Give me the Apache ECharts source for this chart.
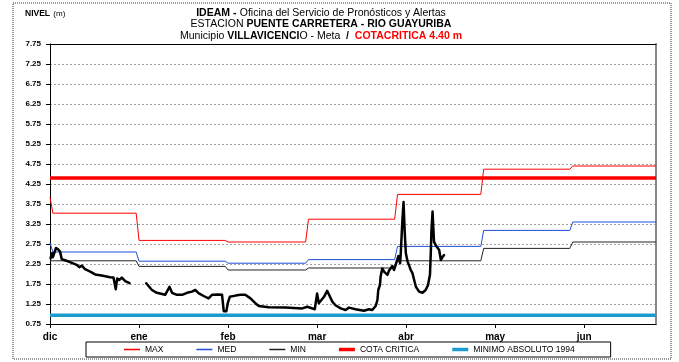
<!DOCTYPE html>
<html>
<head>
<meta charset="utf-8">
<script src="https://cdn.jsdelivr.net/npm/echarts@6/dist/echarts.min.js"></script>
<style>
  html, body { margin: 0; padding: 0; background: #ffffff; }
  #chart { width: 679px; height: 362px; }
</style>
</head>
<body>
<div id="chart"></div>
<script>
// Month tick labels; ticks fall every 31 days from 1 December
const monthLabels = ['dic', 'ene', 'feb', 'mar', 'abr', 'may', 'jun'];
const tickEvery = 31;
// First day (days since 1 Dec) of each month where the monthly statistics change
const monthStartDay = [0, 31, 62, 90, 121, 151, 182];
const lastDay = 211;

// Historical monthly statistics of the river level (m)
const maxMonthly = [3.52, 2.84, 2.80, 3.37, 3.99, 4.62, 4.70];
const medMonthly = [2.55, 2.32, 2.27, 2.36, 2.69, 3.09, 3.30];
const minMonthly = [2.33, 2.19, 2.10, 2.15, 2.33, 2.64, 2.80];
// Value on the first day (carried over from November)
const firstDayMax = 3.92;
const firstDayMed = 2.78;
const firstDayMin = 2.33;

// Reference levels (m)
const cotaCritica = 4.40;
const minimoAbsoluto = 0.97;

// Observed level: day since 1 Dec and level (m); null marks the gap in records
const levelDay = [
  0.2, 0.7, 1.0, 2.1, 2.8, 3.5, 4.1, 5.8, 7.6, 9.3, 10.2, 11.1, 12.2, 14.0, 15.7, 18.0,
  20.9, 22.1, 22.9, 23.4, 24.1, 25.0, 26.2, 27.7, 30.5,
  33.5, 35.5, 37.2, 39.0, 40.1, 41.6, 42.5, 44.2, 46.0, 47.7, 49.4, 50.6, 51.7, 53.5,
  55.2, 56.4, 58.7, 59.9, 60.5, 61.4, 61.9, 62.6, 64.6, 66.3, 68.0, 69.8, 71.5, 72.7,
  76.2, 82.0, 87.8, 89.6, 92.2, 93.0, 93.6, 95.4, 96.5, 98.3, 99.4, 101.2, 102.9, 104.1,
  106.4, 109.3, 111.1, 112.2, 113.4, 114.0, 114.3, 114.9, 115.1, 115.7, 116.3, 116.9,
  117.5, 118.0, 119.2, 119.8, 120.7, 121.3, 121.9, 122.1, 122.7, 123.1, 123.5, 123.9,
  124.5, 125.0, 125.6, 126.2, 126.8, 127.4, 128.5, 129.7, 130.8, 131.6, 132.3, 132.6,
  132.8, 133.2, 133.7, 134.3, 134.9, 135.5, 136.1, 136.7, 137.2
];
const levelValue = [
  2.39, 2.52, 2.42, 2.65, 2.62, 2.56, 2.37, 2.33, 2.28, 2.23, 2.17, 2.21, 2.12, 2.06, 1.99, 1.96,
  1.92, 1.91, 1.62, 1.89, 1.85, 1.91, 1.82, 1.77, null,
  1.77, 1.60, 1.53, 1.50, 1.48, 1.68, 1.53, 1.48, 1.48, 1.53, 1.56, 1.60, 1.52, 1.45,
  1.39, 1.48, 1.49, 1.48, 1.07, 1.07, 1.27, 1.43, 1.46, 1.48, 1.48, 1.39, 1.27, 1.20,
  1.17, 1.16, 1.14, 1.18, 1.12, 1.51, 1.27, 1.43, 1.58, 1.31, 1.22, 1.14, 1.10, 1.16,
  1.12, 1.08, 1.12, 1.10, 1.20, 1.35, 1.60, 1.73, 1.93, 2.14, 2.06, 2.10,
  1.98, 2.08, 2.20, 2.10, 2.31, 2.45, 2.27, 2.47, 3.35, 3.80, 3.06, 2.52,
  2.31, 2.22, 2.10, 2.02, 1.85, 1.68, 1.56, 1.53, 1.60, 1.72, 1.98, 2.56,
  3.06, 3.56, 2.81, 2.72, 2.68, 2.60, 2.35, 2.43, 2.47
];

const FONT = '"Liberation Sans", Arial, sans-serif';

// Series colours
const COLOR_MAX = '#ff0000';
const COLOR_MED = '#1f4fd8';
const COLOR_MIN = '#222222';
const COLOR_COTA = '#ff0000';
const COLOR_MINIMO = '#1a9ccf';

// Legend swatches: thin and thick horizontal bars (aspect kept by the legend)
const THIN_ICON = 'path://M0,0H16V1.5H0Z';
const THICK_ICON = 'path://M0,0H16V3.5H0Z';

// Turn monthly constants into a daily step line
function monthlySteps(firstValue, monthly) {
  const pts = [[0, firstValue]];
  monthly.forEach(function (v, i) {
    const start = i === 0 ? 1 : monthStartDay[i];
    const end = i < monthly.length - 1 ? monthStartDay[i + 1] - 1 : lastDay;
    pts.push([start, v], [end, v]);
  });
  return pts;
}

function constantLine(v) {
  return [[0, v], [lastDay, v]];
}

function legendItem(name, icon, color) {
  return { name: name, icon: icon, itemStyle: { color: color, borderWidth: 0 } };
}

const levelData = levelDay.map(function (d, i) { return [d, levelValue[i]]; });

const chart = echarts.init(document.getElementById('chart'), null, { renderer: 'canvas' });

chart.setOption({
  animation: false,
  backgroundColor: '#ffffff',
  textStyle: { fontFamily: FONT },
  grid: { left: 50, right: 23, top: 44, bottom: 38, containLabel: false },
  graphic: [
    {
      type: 'rect',
      shape: { x: 13, y: 3, width: 658, height: 356 },
      style: { fill: 'none', stroke: '#333', lineWidth: 1, lineDash: [1, 1] },
      silent: true
    },
    {
      type: 'text', x: 25, y: 14,
      style: {
        text: '{b|NIVEL} {n|(m)}',
        verticalAlign: 'middle',
        rich: {
          b: { fontFamily: FONT, fontWeight: 'bold', fontSize: 8.5, fill: '#000' },
          n: { fontFamily: FONT, fontSize: 8, fill: '#000' }
        }
      }
    },
    {
      type: 'text', x: 321, y: 13,
      style: {
        text: '{b|IDEAM -} {n|Oficina del Servicio de Pronósticos y Alertas}',
        align: 'center', verticalAlign: 'middle',
        rich: {
          b: { fontFamily: FONT, fontWeight: 'bold', fontSize: 10.5, fill: '#000' },
          n: { fontFamily: FONT, fontSize: 10.5, fill: '#000' }
        }
      }
    },
    {
      type: 'text', x: 321, y: 24.5,
      style: {
        text: '{n|ESTACION }{b|PUENTE CARRETERA - RIO GUAYURIBA}',
        align: 'center', verticalAlign: 'middle',
        rich: {
          b: { fontFamily: FONT, fontWeight: 'bold', fontSize: 10.5, fill: '#000' },
          n: { fontFamily: FONT, fontSize: 10.5, fill: '#000' }
        }
      }
    },
    {
      type: 'text', x: 321, y: 36,
      style: {
        text: '{n|Municipio }{b|VILLAVICENCI}{n|O - Meta }{b| / }{r| COTACRITICA ' + cotaCritica.toFixed(2) + ' m}',
        align: 'center', verticalAlign: 'middle',
        rich: {
          b: { fontFamily: FONT, fontWeight: 'bold', fontSize: 10.5, fill: '#000' },
          n: { fontFamily: FONT, fontSize: 10.5, fill: '#000' },
          r: { fontFamily: FONT, fontWeight: 'bold', fontSize: 10.5, fill: '#ff0000' }
        }
      }
    }
  ],
  legend: {
    data: [
      legendItem('MAX', THIN_ICON, COLOR_MAX),
      legendItem('MED', THIN_ICON, COLOR_MED),
      legendItem('MIN', THIN_ICON, COLOR_MIN),
      legendItem('COTA CRITICA', THICK_ICON, COLOR_COTA),
      legendItem('MINIMO ABSOLUTO 1994', THICK_ICON, COLOR_MINIMO)
    ],
    left: 86,
    top: 342,
    orient: 'horizontal',
    padding: [3, 36, 3, 38],
    itemGap: 33,
    itemWidth: 16,
    itemHeight: 9,
    symbolKeepAspect: true,
    borderColor: '#000',
    borderWidth: 1,
    textStyle: { fontFamily: FONT, fontSize: 8.5, color: '#000' }
  },
  xAxis: [
    {
      type: 'value',
      min: 0,
      max: lastDay,
      interval: tickEvery,
      axisLine: { show: true, onZero: false, lineStyle: { color: '#000', width: 1 } },
      axisTick: { show: true, length: 4, lineStyle: { color: '#000' } },
      splitLine: { show: false },
      axisLabel: {
        margin: 8,
        fontFamily: FONT,
        fontSize: 10,
        fontWeight: 'bold',
        color: '#000',
        showMaxLabel: false,
        formatter: function (v) {
          const k = Math.round(v / tickEvery);
          return (Math.abs(v - k * tickEvery) < 1e-6 && k < monthLabels.length) ? monthLabels[k] : '';
        }
      }
    },
    {
      type: 'value',
      position: 'top',
      min: 0,
      max: lastDay,
      axisLine: { show: true, onZero: false, lineStyle: { color: '#000', width: 1 } },
      axisTick: { show: false },
      axisLabel: { show: false },
      splitLine: { show: false }
    }
  ],
  yAxis: [
    {
      type: 'value',
      min: 0.75,
      max: 7.75,
      interval: 0.5,
      axisLine: { show: true, onZero: false, lineStyle: { color: '#000', width: 1 } },
      axisTick: { show: true, length: 4, lineStyle: { color: '#000' } },
      splitLine: { show: true, lineStyle: { color: '#a0a0a0', type: [2, 2], width: 1 } },
      axisLabel: {
        margin: 9,
        fontFamily: FONT,
        fontSize: 8,
        fontWeight: 'bold',
        color: '#000',
        formatter: function (v) { return v.toFixed(2); }
      }
    },
    {
      type: 'value',
      position: 'right',
      min: 0.75,
      max: 7.75,
      axisLine: { show: true, onZero: false, lineStyle: { color: '#888', width: 2 } },
      axisTick: { show: false },
      axisLabel: { show: false },
      splitLine: { show: false }
    }
  ],
  series: [
    {
      name: 'MAX', type: 'line', symbol: 'none', silent: true,
      data: monthlySteps(firstDayMax, maxMonthly),
      lineStyle: { color: COLOR_MAX, width: 1 }, itemStyle: { color: COLOR_MAX }
    },
    {
      name: 'MED', type: 'line', symbol: 'none', silent: true,
      data: monthlySteps(firstDayMed, medMonthly),
      lineStyle: { color: COLOR_MED, width: 1 }, itemStyle: { color: COLOR_MED }
    },
    {
      name: 'MIN', type: 'line', symbol: 'none', silent: true,
      data: monthlySteps(firstDayMin, minMonthly),
      lineStyle: { color: COLOR_MIN, width: 1 }, itemStyle: { color: COLOR_MIN }
    },
    {
      name: 'COTA CRITICA', type: 'line', symbol: 'none', silent: true,
      data: constantLine(cotaCritica),
      lineStyle: { color: COLOR_COTA, width: 3.5 }, itemStyle: { color: COLOR_COTA }
    },
    {
      name: 'MINIMO ABSOLUTO 1994', type: 'line', symbol: 'none', silent: true,
      data: constantLine(minimoAbsoluto),
      lineStyle: { color: COLOR_MINIMO, width: 3.5 }, itemStyle: { color: COLOR_MINIMO }
    },
    {
      name: 'NIVEL', type: 'line', symbol: 'none', silent: true,
      connectNulls: false,
      data: levelData,
      lineStyle: { color: '#000000', width: 2.5, join: 'round', cap: 'round' },
      itemStyle: { color: '#000000' },
      z: 5
    }
  ]
});
</script>
</body>
</html>
